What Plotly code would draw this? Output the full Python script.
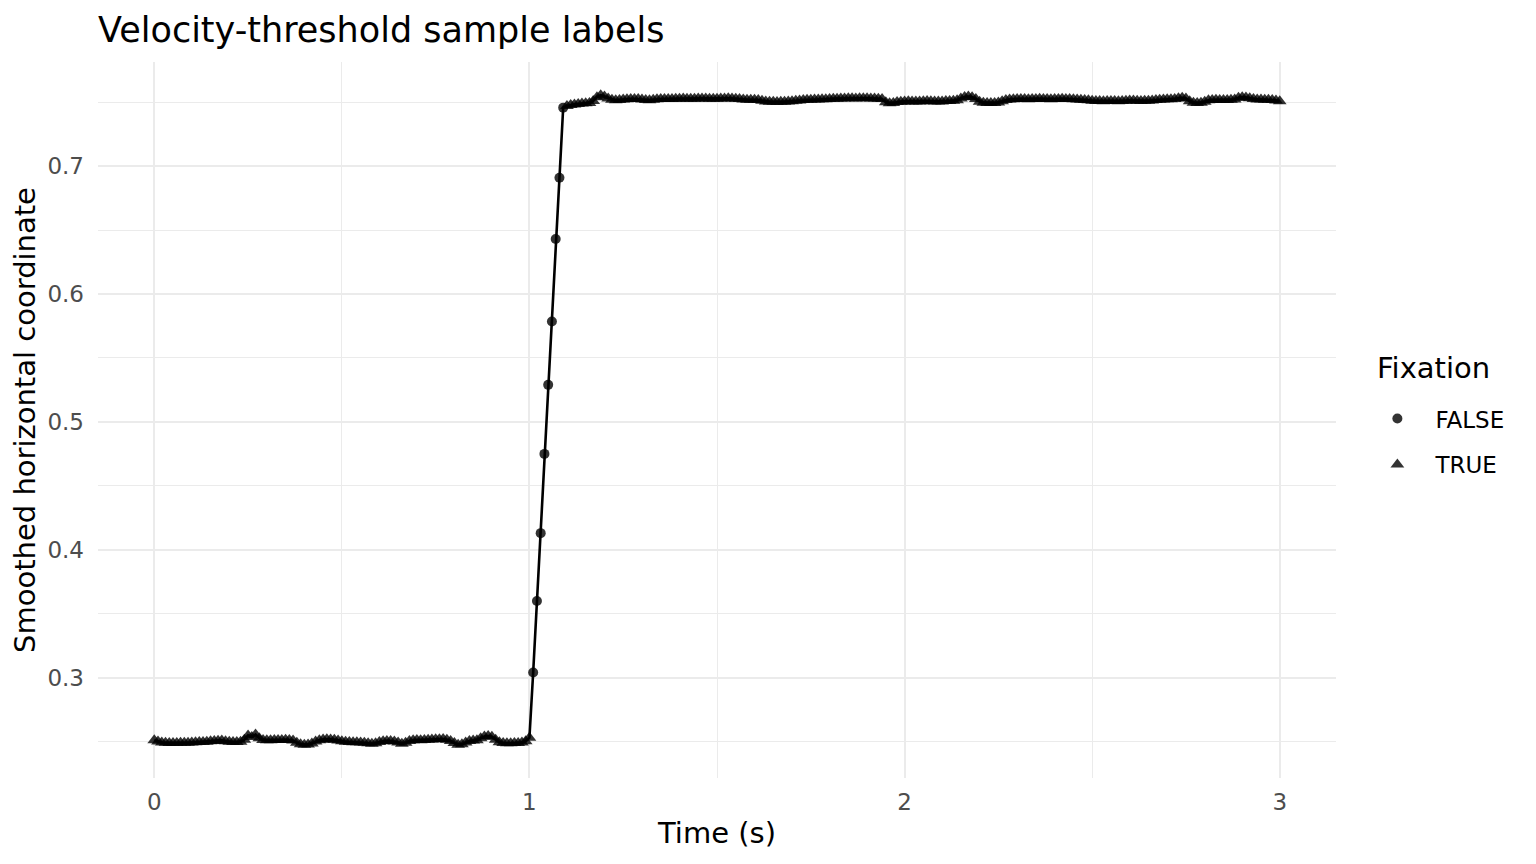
import plotly.graph_objects as go

SAMPLE_RATE_HZ = 100

# smoothed horizontal gaze coordinate, one value per sample (0.00 s .. 3.00 s)
X_SMOOTH = [
    0.2510, 0.2500, 0.2492, 0.2490, 0.2489, 0.2488, 0.2489, 0.2490, 0.2490, 0.2491,
    0.2493, 0.2494, 0.2496, 0.2497, 0.2499, 0.2502, 0.2505, 0.2507, 0.2509, 0.2503,
    0.2498, 0.2497, 0.2496, 0.2499, 0.2515, 0.2548, 0.2535, 0.2555, 0.2525, 0.2512,
    0.2511, 0.2510, 0.2512, 0.2513, 0.2512, 0.2514, 0.2513, 0.2508, 0.2490, 0.2478,
    0.2476, 0.2477, 0.2485, 0.2500, 0.2510, 0.2516, 0.2518, 0.2517, 0.2514, 0.2508,
    0.2502, 0.2498, 0.2496, 0.2495, 0.2494, 0.2493, 0.2490, 0.2486, 0.2483, 0.2487,
    0.2497, 0.2503, 0.2505, 0.2504, 0.2500, 0.2492, 0.2482, 0.2490, 0.2505, 0.2510,
    0.2512, 0.2511, 0.2513, 0.2515, 0.2516, 0.2518, 0.2519, 0.2520, 0.2515, 0.2505,
    0.2488, 0.2476, 0.2478, 0.2492, 0.2505, 0.2508, 0.2510, 0.2525, 0.2540, 0.2543,
    0.2538, 0.2515, 0.2495, 0.2488, 0.2486, 0.2487, 0.2489, 0.2488, 0.2492, 0.2502,
    0.2530, 0.3040, 0.3600, 0.4130, 0.4750, 0.5290, 0.5785, 0.6430, 0.6910, 0.7458,
    0.7470, 0.7478, 0.7483, 0.7487, 0.7490, 0.7492, 0.7495, 0.7510, 0.7540, 0.7555,
    0.7545, 0.7530, 0.7520, 0.7515, 0.7518, 0.7522, 0.7524, 0.7525, 0.7526, 0.7525,
    0.7522, 0.7518, 0.7516, 0.7519, 0.7523, 0.7525, 0.7526, 0.7525, 0.7526, 0.7527,
    0.7528, 0.7529, 0.7528, 0.7527, 0.7528, 0.7529, 0.7530, 0.7529, 0.7528, 0.7527,
    0.7528, 0.7529, 0.7530, 0.7531, 0.7530, 0.7528, 0.7526, 0.7522, 0.7520, 0.7519,
    0.7520, 0.7518, 0.7512, 0.7507, 0.7505, 0.7504, 0.7503, 0.7504, 0.7505, 0.7506,
    0.7508, 0.7511, 0.7514, 0.7517, 0.7519, 0.7520, 0.7521, 0.7522, 0.7523, 0.7524,
    0.7526, 0.7527, 0.7528, 0.7529, 0.7530, 0.7531, 0.7531, 0.7530, 0.7531, 0.7532,
    0.7531, 0.7530, 0.7529, 0.7528, 0.7525, 0.7500, 0.7493, 0.7495, 0.7502, 0.7505,
    0.7507, 0.7508, 0.7507, 0.7506, 0.7507, 0.7508, 0.7509, 0.7508, 0.7507, 0.7506,
    0.7507, 0.7509, 0.7510, 0.7512, 0.7515, 0.7530, 0.7542, 0.7545, 0.7540, 0.7525,
    0.7505, 0.7497, 0.7495, 0.7494, 0.7495, 0.7498, 0.7508, 0.7518, 0.7522, 0.7524,
    0.7525, 0.7526, 0.7525, 0.7524, 0.7525, 0.7526, 0.7527, 0.7526, 0.7525, 0.7524,
    0.7525, 0.7526, 0.7527, 0.7526, 0.7525, 0.7523, 0.7522, 0.7520, 0.7518, 0.7515,
    0.7512, 0.7510, 0.7509, 0.7508, 0.7509, 0.7510, 0.7509, 0.7508, 0.7510, 0.7512,
    0.7514, 0.7513, 0.7511, 0.7510, 0.7511, 0.7512, 0.7514, 0.7517, 0.7520, 0.7522,
    0.7523, 0.7524, 0.7526, 0.7532, 0.7535, 0.7530, 0.7508, 0.7496, 0.7494, 0.7496,
    0.7505, 0.7515, 0.7518, 0.7519, 0.7518, 0.7517, 0.7518, 0.7519, 0.7522, 0.7535,
    0.7540, 0.7538, 0.7532, 0.7525, 0.7522, 0.7521, 0.7520, 0.7519, 0.7518, 0.7514,
    0.7508,
]

# samples above the velocity threshold (Fixation == FALSE)
SACCADE_TIMES = [1.01, 1.02, 1.03, 1.04, 1.05, 1.06, 1.07, 1.08, 1.09]

FONT = "DejaVu Sans"
GRID = "#EBEBEB"
POINT = "rgba(0,0,0,0.8)"

time_s = [round(i / SAMPLE_RATE_HZ, 2) for i in range(len(X_SMOOTH))]
fixation = [t not in SACCADE_TIMES for t in time_s]

fig = go.Figure()

for label, flag, symbol, size in [("FALSE", False, "circle", 10), ("TRUE", True, "triangle-up", 12)]:
    fig.add_trace(go.Scatter(
        x=[t for t, f in zip(time_s, fixation) if f == flag],
        y=[v for v, f in zip(X_SMOOTH, fixation) if f == flag],
        mode="markers",
        name=label,
        legendgroup=label,
        marker=dict(symbol=symbol, size=size, color=POINT, line=dict(width=0)),
    ))

# the path through all samples, on top of the points
fig.add_trace(go.Scatter(
    x=time_s, y=X_SMOOTH, mode="lines",
    line=dict(color="black", width=2.6),
    showlegend=False, hoverinfo="skip",
))

fig.update_layout(
    width=1536, height=864,
    paper_bgcolor="white", plot_bgcolor="white",
    font=dict(family=FONT, color="black"),
    margin=dict(l=98, r=200, t=62, b=86),
    title=dict(
        text="Velocity-threshold sample labels",
        font=dict(size=35, color="black"),
        x=98 / 1536, xanchor="left", xref="container",
        y=1 - 30 / 864, yanchor="middle", yref="container",
    ),
    legend=dict(
        font=dict(size=23),
        x=1.031, xanchor="left", y=0.532, yanchor="top",
        itemwidth=66, indentation=-15, tracegroupgap=13,
        bgcolor="rgba(0,0,0,0)",
    ),
    showlegend=True,
    # legend title, placed in pixel terms relative to the plot area
    annotations=[dict(
        text="Fixation", font=dict(size=29, color="black"),
        x=(1375 - 98) / 1238, xref="paper", xanchor="left",
        y=1 - (368 - 62) / 716, yref="paper", yanchor="middle", showarrow=False,
    )],
)

fig.update_xaxes(
    range=[-0.15, 3.15], dtick=1, tick0=0,
    showgrid=True, gridcolor=GRID, gridwidth=2.4, zeroline=False, showline=False,
    minor=dict(dtick=0.5, showgrid=True, gridcolor=GRID, gridwidth=1.3),
    tickfont=dict(size=23, color="#4D4D4D"), ticklabelstandoff=8,
    title=dict(text="Time (s)", font=dict(size=29), standoff=8),
)
fig.update_yaxes(
    range=[0.2215, 0.7815], dtick=0.1, tick0=0.3, tickformat=".1f",
    showgrid=True, gridcolor=GRID, gridwidth=2.4, zeroline=False, showline=False,
    minor=dict(dtick=0.05, showgrid=True, gridcolor=GRID, gridwidth=1.3),
    tickfont=dict(size=23, color="#4D4D4D"), ticklabelstandoff=13,
    title=dict(text="Smoothed horizontal coordinate", font=dict(size=29), standoff=3),
)

fig.write_html(
    "out.html",
    config={"displayModeBar": False},
    post_script="document.body.style.margin='0';",
)
